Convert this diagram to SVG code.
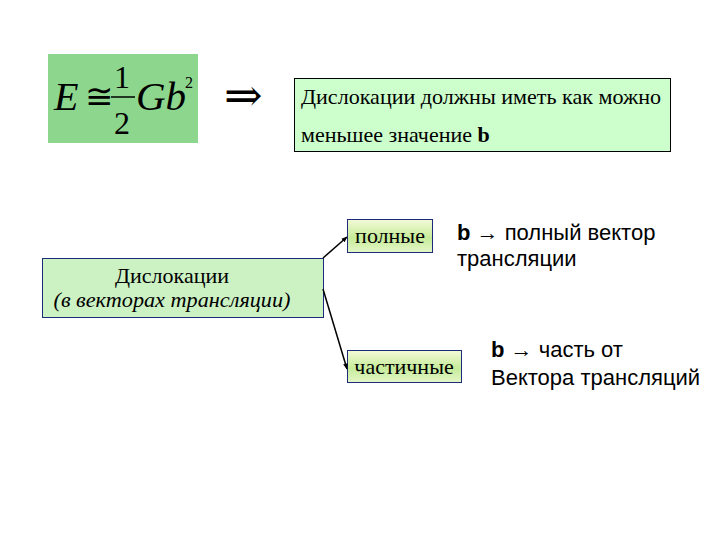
<svg xmlns="http://www.w3.org/2000/svg" width="720" height="540" viewBox="0 0 720 540">
<defs>
<style>
.serif{font-family:'Liberation Serif','DejaVu Serif',serif;fill:#000}
.sans{font-family:'Liberation Sans','DejaVu Sans',sans-serif;fill:#000}
.conn{stroke:#000;stroke-width:1.5;fill:none}
</style>
<linearGradient id="gsmall" x1="0" y1="0" x2="0" y2="1">
<stop offset="0" stop-color="#f4fad8"/>
<stop offset="0.55" stop-color="#c6ec9a"/>
<stop offset="1" stop-color="#e4f6c8"/>
</linearGradient>
<marker id="ah" viewBox="0 0 10 10" refX="9" refY="5" markerWidth="6" markerHeight="6" orient="auto" markerUnits="userSpaceOnUse">
<path d="M0,1 L10,5 L0,9 z" fill="#000"/>
</marker>
</defs>
<rect width="720" height="540" fill="#fff"/>

<g id="formula">
<rect x="48" y="54" width="150" height="89" fill="#8dd68d"/>
<text class="serif" x="54" y="110" font-size="40" font-style="italic">E</text>
<text class="serif" x="85" y="108" font-size="34">≅</text>
<text class="serif" x="114" y="88" font-size="32">1</text>
<line x1="111" y1="97" x2="135" y2="97" stroke="#000" stroke-width="1.5"/>
<text class="serif" x="114" y="134" font-size="32">2</text>
<text class="serif" x="136" y="110" font-size="41" font-style="italic">Gb</text>
<text class="serif" x="185" y="88" font-size="16">2</text>
</g>

<g id="implies">
<text x="224" y="111" font-size="46" font-family="'DejaVu Serif',serif">⇒</text>
</g>

<g id="note-top">
<rect x="294.5" y="78.5" width="376" height="73" fill="#ccffcc" stroke="#000" stroke-width="1"/>
<text class="serif" x="301" y="104" font-size="22" textLength="360" lengthAdjust="spacingAndGlyphs">Дислокации должны иметь как можно</text>
<text class="serif" x="301" y="142" font-size="22">меньшее значение <tspan font-weight="bold">b</tspan></text>
</g>

<g id="dislocations">
<rect x="42.5" y="258.5" width="281" height="59" fill="#ccf2c4" stroke="#1c2c7a" stroke-width="1"/>
<text class="serif" x="172" y="283" font-size="22" text-anchor="middle">Дислокации</text>
<text class="serif" x="172" y="307" font-size="22" font-style="italic" text-anchor="middle" textLength="237" lengthAdjust="spacingAndGlyphs">(в векторах трансляции)</text>
</g>

<g id="full">
<rect x="347.5" y="219.5" width="85" height="33" fill="url(#gsmall)" stroke="#1c2c7a" stroke-width="1"/>
<text class="serif" x="390" y="243" font-size="22" text-anchor="middle">полные</text>
</g>

<g id="partial">
<rect x="347.5" y="350.5" width="114" height="32" fill="url(#gsmall)" stroke="#1c2c7a" stroke-width="1"/>
<text class="serif" x="404" y="374" font-size="22" text-anchor="middle">частичные</text>
</g>

<g id="label-full">
<text class="sans" x="457" y="240" font-size="22"><tspan font-weight="bold">b</tspan> → полный вектор</text>
<text class="sans" x="457" y="266" font-size="22">трансляции</text>
</g>

<g id="label-partial">
<text class="sans" x="491" y="357" font-size="22"><tspan font-weight="bold">b</tspan> → часть от</text>
<text class="sans" x="491" y="385" font-size="22">Вектора трансляций</text>
</g>

<g id="connectors">
<line class="conn" x1="323" y1="258" x2="347" y2="237" marker-end="url(#ah)"/>
<line class="conn" x1="323" y1="289" x2="347" y2="369" marker-end="url(#ah)"/>
</g>
</svg>
